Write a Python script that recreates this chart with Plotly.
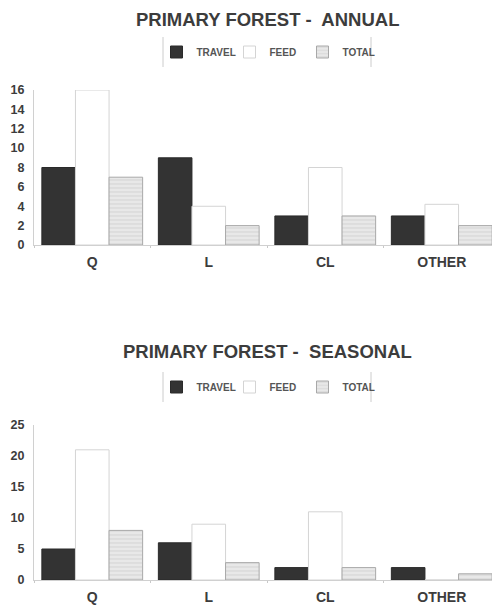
import plotly.graph_objects as go

categories = ["Q", "L", "CL", "OTHER"]
series_names = ["TRAVEL", "FEED", "TOTAL"]

annual_travel = [8, 9, 3, 3]
annual_feed = [16, 4, 8, 4.2]
annual_total = [7, 2, 3, 2]

seasonal_travel = [5, 6, 2, 2]
seasonal_feed = [21, 9, 11, 0]
seasonal_total = [8, 2.8, 2, 1]

annual_ticks = [0, 2, 4, 6, 8, 10, 12, 14, 16]
seasonal_ticks = [0, 5, 10, 15, 20, 25]

OFF = 8            # page body margin
W, H = 492, 600    # figure size inside the page
L = 34 - OFF       # left edge of plot area (figure px)
R = 0

def py(page_y):
    return (H - (page_y - OFF)) / H

def px_x(page_x):
    return (page_x - OFF - L) / (W - L - R)

TXT = "#3c3c3c"
FAM = "Liberation Sans, Arial"
styles = [
    dict(color="#333333", line=dict(color="#2a2a2a", width=1)),
    dict(color="#ffffff", line=dict(color="#d4d4d4", width=1)),
    dict(color="#e6e6e6", line=dict(color="#a8a8a8", width=1),
         pattern=dict(shape="-", fgcolor="#c4c4c4", bgcolor="#e8e8e8", size=4, solidity=0.3)),
]

fig = go.Figure()
for (vals, xa, ya, lg) in [
    ([annual_travel, annual_feed, annual_total], "x", "y", "legend"),
    ([seasonal_travel, seasonal_feed, seasonal_total], "x2", "y2", "legend2"),
]:
    for name, v, st in zip(series_names, vals, styles):
        fig.add_trace(go.Bar(x=categories, y=v, name=name, xaxis=xa, yaxis=ya,
                             marker=st, legend=lg, cliponaxis=True))

axis_font = dict(family=FAM, size=12.5, color=TXT, weight="bold")
cat_font = dict(family=FAM, size=14, color=TXT, weight="bold")
xcommon = dict(showgrid=False, showline=True, linecolor="#d0d0d0", linewidth=1,
               ticks="outside", tickson="boundaries", ticklen=2, tickcolor="#c8c8c8",
               tickfont=cat_font, domain=[0, 1], range=[-0.5, 3.5], zeroline=False,
               automargin=False, ticklabelstandoff=4)
ycommon = dict(showgrid=False, showline=True, linecolor="#d0d0d0", linewidth=1,
               ticks="", tickfont=axis_font, zeroline=False, automargin=False,
               ticklabelstandoff=6)

leg_font = dict(family=FAM, size=10, color="#555", weight="bold")
leg_common = dict(orientation="h", xanchor="center", yanchor="middle", font=leg_font,
                  bgcolor="rgba(0,0,0,0)", traceorder="normal", itemwidth=30,
                  entrywidth=28, entrywidthmode="pixels")

fig.update_layout(
    width=W, height=H,
    margin=dict(l=L, r=R, t=0, b=0, autoexpand=False),
    paper_bgcolor="white", plot_bgcolor="white",
    barmode="group", bargap=0.135, bargroupgap=0,
    xaxis=dict(**xcommon, anchor="y"),
    yaxis=dict(**ycommon, domain=[py(245), py(90)], range=[0, 16], tickvals=annual_ticks, anchor="x"),
    xaxis2=dict(**xcommon, anchor="y2"),
    yaxis2=dict(**ycommon, domain=[py(580), py(425)], range=[0, 25], tickvals=seasonal_ticks, anchor="x2"),
    legend=dict(**leg_common, x=px_x(266), y=py(52)),
    legend2=dict(**leg_common, x=px_x(266), y=py(387)),
    showlegend=True,
)

title_font = dict(family=FAM, size=18.5, color=TXT, weight="bold")
fig.add_annotation(text="PRIMARY FOREST -  ANNUAL", xref="paper", yref="paper",
                   x=px_x(267), y=1, showarrow=False, font=title_font, yanchor="top",
                   borderpad=0)
fig.add_annotation(text="PRIMARY FOREST -  SEASONAL", xref="paper", yref="paper",
                   x=px_x(267), y=py(352), showarrow=False, font=title_font, yanchor="middle")

for (y0, y1) in [(37, 67), (372, 402)]:
    for xp in (163, 371):
        fig.add_shape(type="line", xref="paper", yref="paper",
                      x0=px_x(xp), x1=px_x(xp), y0=py(y0), y1=py(y1),
                      line=dict(color="#cccccc", width=1))

fig.write_html("out.html")
